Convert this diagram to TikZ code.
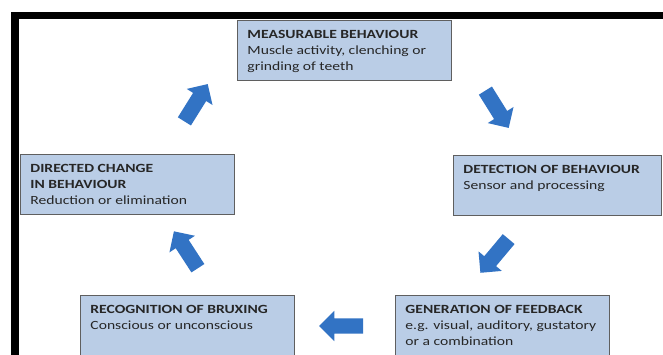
\documentclass[tikz,border=0pt]{standalone}
\usepackage{fontspec}
\setmainfont[FakeStretch=1.25]{Carlito}
\usetikzlibrary{shapes.arrows}

\definecolor{stagefill}{RGB}{186,205,230}
\definecolor{stageline}{RGB}{95,95,95}
\definecolor{flowblue}{RGB}{50,115,196}

\tikzstyle{stage} = [rectangle, anchor=north west, draw=stageline, fill=stagefill, line width=0.9pt, inner xsep=10pt, inner ysep=9.5pt, text=black!85]
\tikzstyle{flow} = [single arrow, fill=flowblue, minimum height=44pt, inner xsep=0pt, inner ysep=7.5pt, single arrow head extend=7.5pt]

\newcommand{\stagetext}[3][194pt]{\parbox[t][41pt][t]{#1}{\raggedright\textbf{#2}\\#3}}

\begin{document}
\begin{tikzpicture}[x=1pt, y=-1pt, font=\fontsize{12.5pt}{16pt}\selectfont]

\clip (0,0) rectangle (663,355);
\fill[white] (0,0) rectangle (663,355);

% black frame, top and left
\fill[black] (11,12) rectangle (663,19);
\fill[black] (11,12) rectangle (19,355);

\node (meas) [stage] at (237,20) {\stagetext{MEASURABLE BEHAVIOUR}{Muscle activity, clenching or\\grinding of teeth}};
\node (detect) [stage] at (453,155) {\stagetext[188pt]{DETECTION OF BEHAVIOUR}{Sensor and processing}};
\node (gener) [stage] at (395,295) {\stagetext{GENERATION OF FEEDBACK}{e.g. visual, auditory, gustatory\\or a combination}};
\node (recog) [stage] at (80,295) {\stagetext{RECOGNITION OF BRUXING}{Conscious or unconscious}};
\node (direct) [stage] at (20,154) {\stagetext{DIRECTED CHANGE\\IN BEHAVIOUR}{Reduction or elimination}};

\node (measdetect) [flow, rotate=-58] at (495,106) {};
\node (detectgener) [flow, rotate=-130] at (497,253) {};
\node (generrecog) [flow, rotate=180] at (345,326) {};
\node (recogdirect) [flow, rotate=123] at (188,253) {};
\node (directmeas) [flow, rotate=58] at (194,106) {};

\end{tikzpicture}
\end{document}
